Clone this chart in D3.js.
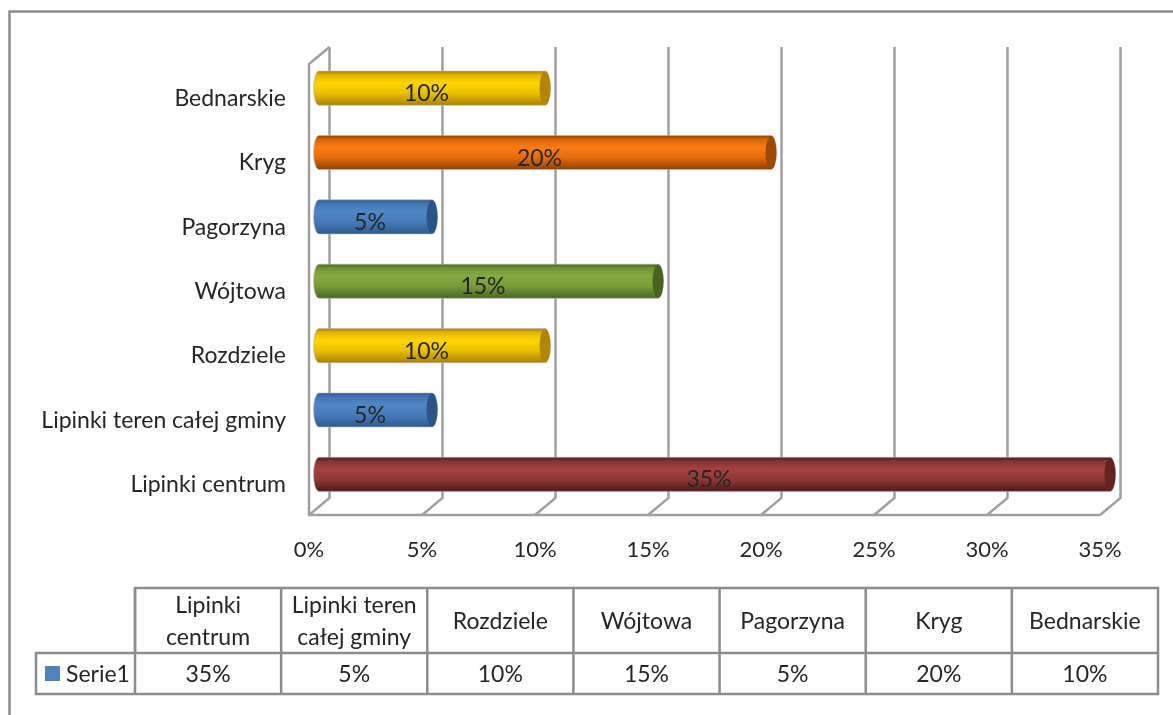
<!DOCTYPE html>
<html>
<head>
<meta charset="utf-8">
<script src="https://cdn.jsdelivr.net/npm/d3@7"></script>
<style>
    body { margin: 0; background: #fff; }
    text { font-family: Lato, sans-serif; fill: #262626; }
    svg { filter: blur(0.4px); }
</style>
</head>
<body>
<div id="chart"></div>
<script>
let categories = ['Lipinki centrum', 'Lipinki teren całej gminy', 'Rozdziele', 'Wójtowa', 'Pagorzyna', 'Kryg', 'Bednarskie'];
let values = [35, 5, 10, 15, 5, 20, 10];
let ticks = [0, 5, 10, 15, 20, 25, 30, 35];
let tableHeaders = [['Lipinki', 'centrum'], ['Lipinki teren', 'całej gminy'], ['Rozdziele'], ['Wójtowa'], ['Pagorzyna'], ['Kryg'], ['Bednarskie']];
let seriesName = 'Serie1';

// [dark edge, light middle, cap]
let palette = {
    5: ['#2f5a8f', '#4f86c6', '#2c5486'],
    10: ['#a87f00', '#ffd500', '#b08600'],
    15: ['#4d6626', '#86ab3f', '#4a6323'],
    20: ['#8f4000', '#ff7c10', '#9c4a04'],
    35: ['#4f1a1a', '#a54140', '#652222']
};

let width = 1173, height = 715;
let gridColor = '#a0a0a0';
let fontSize = '23px';

let svg = d3.select('#chart')
    .append('svg')
    .attr('width', width)
    .attr('height', height)
    .style('display', 'block');

// chart frame, the right and bottom edges are cut off in the picture
svg.append('path')
    .attr('d', d3.line()([[9.5, height], [9.5, 11.5], [width, 11.5]]))
    .attr('fill', 'none')
    .attr('stroke', '#8c8c8c')
    .attr('stroke-width', 2.5);

let xFront = d3.scaleLinear().domain([0, 35]).range([309, 1100]);
let xBack = d3.scaleLinear().domain([0, 35]).range([329.5, 1120.5]);
let xBar = d3.scaleLinear().domain([0, 35]).range([319, 1110]);

let yBar = d3.scaleBand()
    .domain(categories)
    .range([506.5, 56])
    .paddingInner(0.47)
    .paddingOuter(0.235);

let yLabel = d3.scaleBand()
    .domain(categories)
    .range([517, 66.5]);

let wallTop = 47, wallBottom = 498, floorY = 515, leftTop = 64;

// Group for gridlines and walls
let gridG = svg.append('g')
    .attr('fill', 'none')
    .attr('stroke', gridColor)
    .attr('stroke-width', 2.5);

gridG.selectAll('path.grid')
    .data(ticks)
    .join('path')
    .attr('class', 'grid')
    .attr('d', d => d3.line()([[xBack(d), wallTop], [xBack(d), wallBottom], [xFront(d), floorY]]));

gridG.append('path')
    .attr('d', d3.line()([[xBack(0), wallTop], [xFront(0), leftTop], [xFront(0), floorY], [xFront(35), floorY]]));

// One gradient per colour
let defs = svg.append('defs');
Object.keys(palette).forEach(k => {
    let grad = defs.append('linearGradient')
        .attr('id', 'bar' + k)
        .attr('x1', 0).attr('x2', 0).attr('y1', 0).attr('y2', 1);
    grad.append('stop').attr('offset', '0%').attr('stop-color', palette[k][0]);
    grad.append('stop').attr('offset', '12%').attr('stop-color', d3.interpolateRgb(palette[k][0], palette[k][1])(0.65));
    grad.append('stop').attr('offset', '35%').attr('stop-color', palette[k][1]);
    grad.append('stop').attr('offset', '65%').attr('stop-color', d3.interpolateRgb(palette[k][1], palette[k][0])(0.25));
    grad.append('stop').attr('offset', '100%').attr('stop-color', palette[k][0]);
});

let rows = categories.map((c, i) => ({category: c, value: values[i]}));
let capRx = 5.5;

// Group for cylinders
let barG = svg.append('g')
    .selectAll('g')
    .data(rows)
    .join('g');

barG.append('path')
    .attr('d', d => {
        let y0 = yBar(d.category), h = yBar.bandwidth();
        return `M${xBar(0)},${y0} H${xBar(d.value)} A${capRx},${h / 2} 0 0 1 ${xBar(d.value)},${y0 + h} H${xBar(0)} A${capRx},${h / 2} 0 0 1 ${xBar(0)},${y0} Z`;
    })
    .attr('fill', d => `url(#bar${d.value})`)
    .attr('stroke', '#b9b9b9')
    .attr('stroke-opacity', 0.6);

barG.append('ellipse')
    .attr('cx', d => xBar(d.value))
    .attr('cy', d => yBar(d.category) + yBar.bandwidth() / 2)
    .attr('rx', capRx)
    .attr('ry', yBar.bandwidth() / 2 - 0.5)
    .attr('fill', d => palette[d.value][2]);

barG.append('text')
    .attr('x', d => xFront(d.value / 2) + 4.5)
    .attr('y', d => yBar(d.category) + yBar.bandwidth() / 2 + 5)
    .attr('dy', '0.35em')
    .attr('text-anchor', 'middle')
    .style('font-size', fontSize)
    .text(d => d.value + '%');

// Axes
let xAxis = svg.append('g')
    .attr('transform', 'translate(-0.5,549)')
    .call(d3.axisBottom(xFront).tickValues(ticks).tickFormat(d => d + '%').tickSize(0).tickPadding(0));
xAxis.select('.domain').remove();
xAxis.selectAll('text')
    .attr('y', 0)
    .attr('dy', '0.35em')
    .style('font-size', '22px');

let yAxis = svg.append('g')
    .attr('transform', 'translate(286,0)')
    .call(d3.axisLeft(yLabel).tickSize(0).tickPadding(0));
yAxis.select('.domain').remove();
yAxis.selectAll('text')
    .style('font-size', fontSize);

// Data table
let tableX = d3.scaleBand().domain(categories).range([135, 1158]);
let tableY = [588, 653, 694];
let legendLeft = 36;

let tableG = svg.append('g');

tableG.append('path')
    .attr('d', d3.line()([[tableX.range()[0], tableY[1]], [tableX.range()[0], tableY[0]], [tableX.range()[1], tableY[0]], [tableX.range()[1], tableY[2]], [legendLeft, tableY[2]], [legendLeft, tableY[1]], [tableX.range()[1], tableY[1]]]))
    .attr('fill', 'none')
    .attr('stroke', '#8c8c8c')
    .attr('stroke-width', 2.5);

tableG.selectAll('line.col')
    .data(categories)
    .join('line')
    .attr('class', 'col')
    .attr('x1', d => tableX(d))
    .attr('x2', d => tableX(d))
    .attr('y1', tableY[0])
    .attr('y2', tableY[2])
    .attr('stroke', '#8c8c8c')
    .attr('stroke-width', 2.5);

let headerG = tableG.selectAll('text.header')
    .data(categories)
    .join('text')
    .attr('class', 'header')
    .attr('text-anchor', 'middle')
    .style('font-size', fontSize);

headerG.selectAll('tspan')
    .data((d, i) => tableHeaders[i].map((line, j, all) => ({
        line: line,
        x: tableX(d) + tableX.bandwidth() / 2,
        y: (tableY[0] + tableY[1]) / 2 + (j - (all.length - 1) / 2) * 32
    })))
    .join('tspan')
    .attr('x', d => d.x)
    .attr('y', d => d.y)
    .attr('dy', '0.35em')
    .text(d => d.line);

tableG.selectAll('text.value')
    .data(rows)
    .join('text')
    .attr('class', 'value')
    .attr('x', d => tableX(d.category) + tableX.bandwidth() / 2)
    .attr('y', (tableY[1] + tableY[2]) / 2)
    .attr('dy', '0.35em')
    .attr('text-anchor', 'middle')
    .style('font-size', fontSize)
    .text(d => d.value + '%');

// Legend key
tableG.append('rect')
    .attr('x', 45)
    .attr('y', 666)
    .attr('width', 15)
    .attr('height', 15)
    .attr('fill', '#4f81bd');

tableG.append('text')
    .attr('x', 66)
    .attr('y', (tableY[1] + tableY[2]) / 2)
    .attr('dy', '0.35em')
    .style('font-size', fontSize)
    .text(seriesName);
</script>
</body>
</html>
